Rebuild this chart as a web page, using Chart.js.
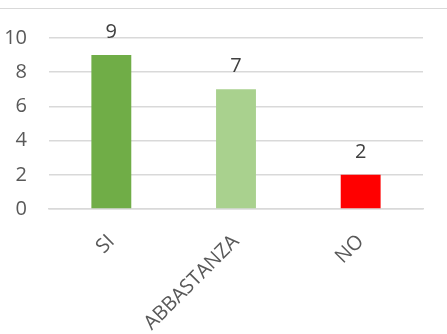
<!DOCTYPE html>
<html>
<head>
<meta charset="utf-8">
<script src="https://cdn.jsdelivr.net/npm/chart.js@4"></script>
<style>
  html, body { margin: 0; padding: 0; background: #fff; }
  #wrap { position: relative; width: 447px; height: 334px; }
  #topline { position: absolute; left: 0; top: 8px; width: 447px; height: 0; border-top: 1.5px solid #d9d9d9; }
</style>
</head>
<body>
<div id="wrap">
  <div id="topline"></div>
  <canvas id="chart" width="447" height="334"></canvas>
</div>
<script>
// Risposte
const categories = ['SI', 'ABBASTANZA', 'NO'];
const values = [9, 7, 2];
const barColors = ['#70ad47', '#a9d18e', '#ff0000'];
const yTicks = [0, 2, 4, 6, 8, 10];

const FONT = '"Open Sans", sans-serif';

// value labels above the bars
const valueLabels = {
    id: 'valueLabels',
    afterDatasetsDraw(chart) {
        const ctx = chart.ctx;
        const meta = chart.getDatasetMeta(0);
        ctx.save();
        ctx.font = '20px ' + FONT;
        ctx.fillStyle = '#404040';
        ctx.textAlign = 'center';
        ctx.textBaseline = 'alphabetic';
        meta.data.forEach((bar, i) => {
            ctx.fillText(String(values[i]), bar.x, bar.y - 17);
        });
        ctx.restore();
    }
};

new Chart(document.getElementById('chart').getContext('2d'), {
    type: 'bar',
    data: {
        labels: categories,
        datasets: [{
            data: values,
            backgroundColor: barColors,
            borderWidth: 0,
            barPercentage: 0.32,
            categoryPercentage: 1.0,
        }]
    },
    options: {
        responsive: false,
        animation: false,
        layout: { padding: { top: 38, right: 24, left: 0, bottom: 0 } },
        plugins: {
            legend: { display: false },
            tooltip: { enabled: false }
        },
        scales: {
            x: {
                grid: { display: false, drawTicks: false },
                border: { display: true, color: '#d9d9d9', width: 1.5 },
                ticks: {
                    minRotation: 45,
                    maxRotation: 45,
                    padding: 21,
                    color: '#595959',
                    font: { family: FONT, size: 20 }
                },
                afterFit(scale) { scale.height = 125; }
            },
            y: {
                min: 0,
                max: 10,
                afterBuildTicks(scale) { scale.ticks = yTicks.map(v => ({ value: v })); },
                grid: { color: '#d9d9d9', lineWidth: 1.5, drawTicks: false },
                border: { display: false },
                ticks: {
                    padding: 22,
                    color: '#595959',
                    font: { family: FONT, size: 20 }
                },
                afterFit(scale) { scale.width = 49; }
            }
        }
    },
    plugins: [valueLabels]
});
</script>
</body>
</html>
